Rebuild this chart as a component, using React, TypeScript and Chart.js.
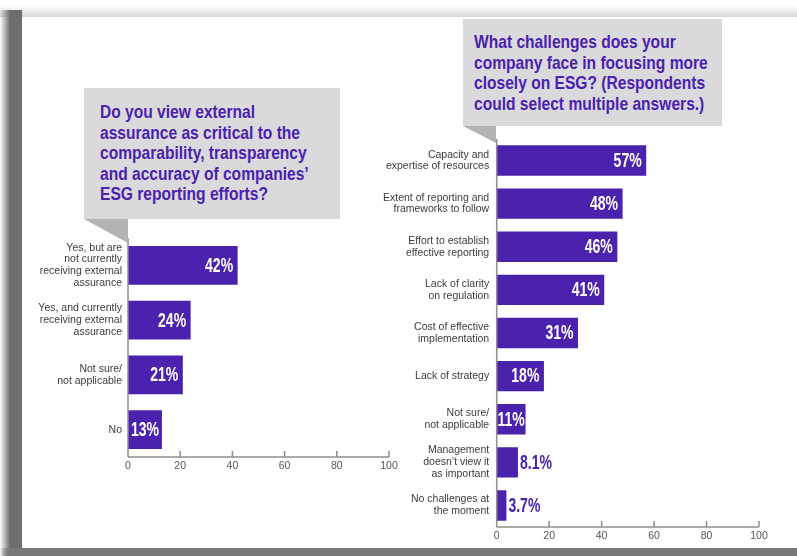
import React, { useEffect, useRef } from "react";
import { Chart, registerables } from "chart.js";

Chart.register(...registerables);

// ---------- data ----------
const leftTitle = [
  "Do you view external",
  "assurance as critical to the",
  "comparability, transparency",
  "and accuracy of companies’",
  "ESG reporting efforts?",
];
const leftCategories: string[][] = [
  ["Yes, but are", "not currently", "receiving external", "assurance"],
  ["Yes, and currently", "receiving external", "assurance"],
  ["Not sure/", "not applicable"],
  ["No"],
];
const leftValues = [42, 24, 21, 13];

const rightTitle = [
  "What challenges does your",
  "company face in focusing more",
  "closely on ESG? (Respondents",
  "could select multiple answers.)",
];
const rightCategories: string[][] = [
  ["Capacity and", "expertise of resources"],
  ["Extent of reporting and", "frameworks to follow"],
  ["Effort to establish", "effective reporting"],
  ["Lack of clarity", "on regulation"],
  ["Cost of effective", "implementation"],
  ["Lack of strategy"],
  ["Not sure/", "not applicable"],
  ["Management", "doesn’t view it", "as important"],
  ["No challenges at", "the moment"],
];
const rightValues = [57, 48, 46, 41, 31, 18, 11, 8.1, 3.7];

const xTicks = [0, 20, 40, 60, 80, 100];

// ---------- styles ----------
const PURPLE = "#4a22ae";
const SANS = "'Liberation Sans', Arial, Helvetica, sans-serif";
const LABEL_SIZE = 19.5;
const LABEL_SX = 0.72;
const TITLE_SX = 0.82;

const decorPlugin = {
  id: "decor",
  afterDatasetsDraw(chart: any) {
    const { ctx, chartArea: a, scales } = chart;
    const xs = scales.x;
    ctx.save();
    // axes
    ctx.strokeStyle = "#8e8e8e";
    ctx.lineWidth = 1.5;
    ctx.beginPath();
    ctx.moveTo(a.left, a.top);
    ctx.lineTo(a.left, a.bottom);
    ctx.moveTo(a.left, a.bottom);
    ctx.lineTo(xs.getPixelForValue(100), a.bottom);
    xs.ticks.forEach((t: any) => {
      const px = xs.getPixelForValue(t.value);
      ctx.moveTo(px, a.bottom);
      ctx.lineTo(px, a.bottom - 6);
    });
    ctx.stroke();

    // value labels
    const meta = chart.getDatasetMeta(0);
    const values = chart.data.datasets[0].data as number[];
    ctx.font = `bold ${LABEL_SIZE}px ${SANS}`;
    ctx.textBaseline = "middle";
    ctx.textAlign = "left";
    meta.data.forEach((bar: any, i: number) => {
      const text = `${values[i]}%`;
      const w = ctx.measureText(text).width * LABEL_SX;
      const { x: end, y, base } = bar.getProps(["x", "y", "base"], true);
      const barW = end - base;
      let left: number;
      if (w < barW + 2) {
        const pad = Math.max(0, Math.min(4.5, (barW - w) / 2));
        left = end - pad - w;
        ctx.fillStyle = "#ffffff";
      } else {
        left = end + 2;
        ctx.fillStyle = PURPLE;
      }
      ctx.save();
      ctx.translate(left, y + 1);
      ctx.scale(LABEL_SX, 1);
      ctx.fillText(text, 0, 0);
      ctx.restore();
    });
    ctx.restore();
  },
};

type Props = {
  categories: string[][];
  values: number[];
  left: number;
  top: number;
  width: number;
  height: number;
  yWidth: number;
  labelPad: number;
};

function BarChart({ categories, values, left, top, width, height, yWidth, labelPad }: Props) {
  const ref = useRef<HTMLCanvasElement>(null);
  useEffect(() => {
    if (!ref.current) return;
    const chart = new Chart(ref.current, {
      type: "bar",
      data: {
        labels: categories,
        datasets: [
          {
            data: values,
            backgroundColor: PURPLE,
            borderWidth: 0,
            barPercentage: 0.705,
            categoryPercentage: 1,
          },
        ],
      },
      options: {
        indexAxis: "y",
        animation: false,
        responsive: true,
        maintainAspectRatio: false,
        layout: { padding: { top: 31, right: 20, left: 0, bottom: 0 } },
        plugins: {
          legend: { display: false },
          tooltip: { enabled: false },
          title: { display: false },
        },
        scales: {
          y: {
            grid: { display: false, drawTicks: false },
            border: { display: false },
            ticks: {
              color: "#3c3c3c",
              font: { family: SANS, size: 10.5, lineHeight: 1.12 },
              padding: labelPad,
              autoSkip: false,
            },
            afterFit: (s: any) => {
              s.width = yWidth;
            },
          },
          x: {
            min: 0,
            max: 100,
            grid: { display: false, drawTicks: false },
            border: { display: false },
            ticks: {
              color: "#555555",
              font: { family: SANS, size: 10.5 },
              padding: 3,
              autoSkip: false,
              maxRotation: 0,
            },
            afterBuildTicks: (s: any) => {
              s.ticks = xTicks.map((v) => ({ value: v }));
            },
            afterFit: (s: any) => {
              s.height = 30;
            },
          },
        },
      } as any,
      plugins: [decorPlugin],
    });
    return () => chart.destroy();
  }, []);
  return (
    <div style={{ position: "absolute", left, top, width, height }}>
      <canvas ref={ref} />
    </div>
  );
}

function Callout({ lines, left, top, width, height, textLeft, textTop, tail }: any) {
  return (
    <>
      <div style={{ position: "absolute", left, top, width, height, background: "#dadadc" }} />
      <div
        style={{
          position: "absolute",
          left: tail[0],
          top: tail[1],
          width: tail[2],
          height: tail[3],
          background: "#b3b3b5",
          clipPath: "polygon(0 0, 100% 0, 100% 100%)",
        }}
      />
      <div
        style={{
          position: "absolute",
          left: textLeft,
          top: textTop,
          font: `bold 19px/20.6px ${SANS}`,
          color: PURPLE,
          whiteSpace: "pre",
          transform: `scaleX(${TITLE_SX})`,
          transformOrigin: "0 0",
        }}
      >
        {lines.join("\n")}
      </div>
    </>
  );
}

export default function App() {
  return (
    <div
      style={{
        position: "fixed",
        left: 0,
        top: 0,
        width: 797,
        height: 556,
        background: "#ffffff",
        overflow: "hidden",
        fontFamily: SANS,
      }}
    >
      {/* frame shadows */}
      <div
        style={{
          position: "absolute",
          left: 0,
          top: 5,
          width: 797,
          height: 12,
          background: "linear-gradient(to bottom, rgba(0,0,0,0), rgba(0,0,0,0.16))",
        }}
      />
      <div
        style={{
          position: "absolute",
          left: 0,
          top: 10,
          width: 22,
          height: 546,
          background: "linear-gradient(to right, rgba(110,110,110,0) 0px, #6e6e6e 10px, #6e6e6e 22px)",
        }}
      />
      <div
        style={{
          position: "absolute",
          left: 0,
          top: 548,
          width: 797,
          height: 8,
          background: "linear-gradient(to right, rgba(120,120,120,0) 0px, #787878 10px, #787878 100%)",
        }}
      />
      <div style={{ position: "absolute", left: 22, top: 17, width: 775, height: 531, background: "#ffffff" }} />

      <BarChart
        categories={leftCategories}
        values={leftValues}
        left={0}
        top={207}
        width={409}
        height={280}
        yWidth={128}
        labelPad={6}
      />
      <BarChart
        categories={rightCategories}
        values={rightValues}
        left={370}
        top={108}
        width={409}
        height={449}
        yWidth={126.7}
        labelPad={7.5}
      />

      <Callout
        lines={leftTitle}
        left={84}
        top={88}
        width={256}
        height={131}
        textLeft={100}
        textTop={102}
        tail={[84, 219, 44, 24]}
      />
      <Callout
        lines={rightTitle}
        left={463}
        top={19}
        width={259}
        height={107}
        textLeft={474}
        textTop={32}
        tail={[463, 126, 33, 17]}
      />
    </div>
  );
}
